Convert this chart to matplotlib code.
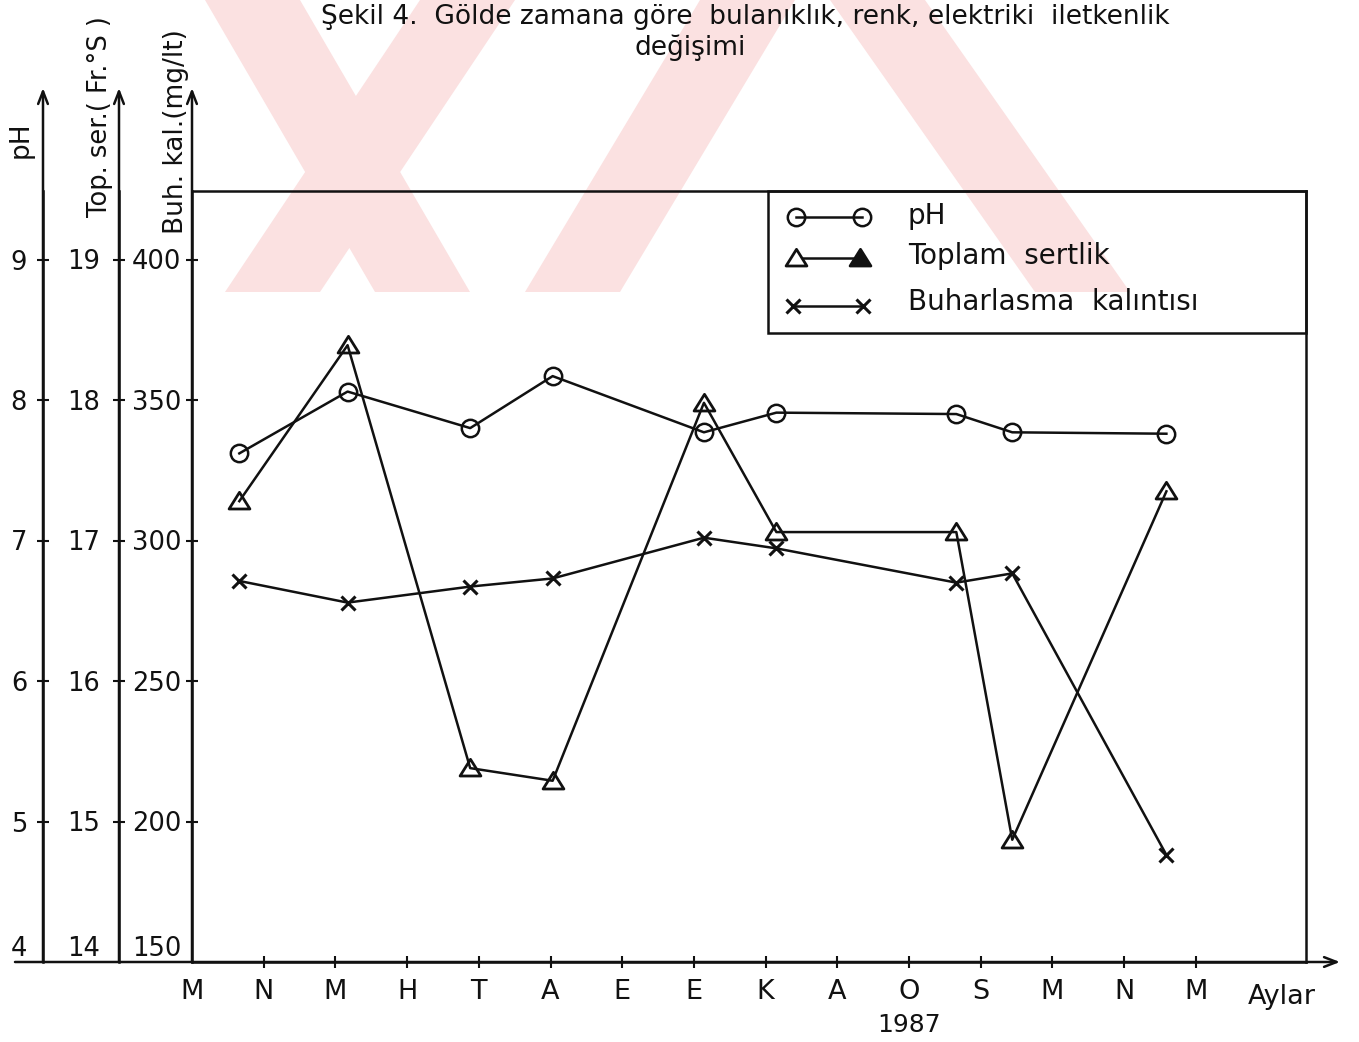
import matplotlib
matplotlib.use("Agg")
import matplotlib.pyplot as plt
from matplotlib.patches import Rectangle, Polygon
from matplotlib.path import Path

# ---------------- data ----------------
months = ["M", "N", "M", "H", "T", "A", "E", "E", "K", "A", "O", "S", "M", "N", "M"]
sample_pos = [0.66, 2.17, 3.88, 5.03, 7.14, 8.15, 10.66, 11.44, 13.59]   # position along month axis
ph = [7.62, 8.06, 7.80, 8.17, 7.77, 7.91, 7.90, 7.77, 7.76]
toplam_sertlik = [17.28, 18.39, 15.38, 15.29, 17.98, 17.06, 17.06, 14.87, 17.35]
buharlasma = [285.6, 277.9, 283.6, 286.5, 301.0, 297.2, 285.0, 288.3, 188.1]
ph_ticks = [4, 5, 6, 7, 8, 9]
ts_ticks = [14, 15, 16, 17, 18, 19]
buh_ticks = [150, 200, 250, 300, 350, 400]

plt.rcParams["font.family"] = ["DejaVu Sans"]

W, H = 1359, 1042
fig = plt.figure(figsize=(W / 100, H / 100), dpi=100)

# faint pink watermark of the scanned page (background decoration)
wm_bands = [
    [(205, 0), (300, 0), (470, 292), (375, 292)],
    [(420, 0), (515, 0), (320, 292), (225, 292)],
    [(700, 0), (795, 0), (620, 292), (525, 292)],
    [(830, 0), (925, 0), (1130, 292), (1035, 292)],
]
for band in wm_bands:
    fig.add_artist(Polygon([(x / W, 1 - y / H) for x, y in band], closed=True,
                           transform=fig.transFigure, fc="#fbe1e1", ec="none", zorder=-5))

L, R, T, B = 192, 1306, 191, 962
ax = fig.add_axes([L / W, 1 - B / H, (R - L) / W, (B - T) / H])
ax.set_xlim(0, (R - L) / 71.7)
ax.set_ylim(150, 150 + (B - T) / 2.81)

ax_ts = ax.twinx()
ax_ph = ax.twinx()
ax_ph.set_ylim(4, 4 + (B - T) / 140.5)
ax_ts.set_ylim(14, 14 + (B - T) / 140.5)

LW = 1.8
K = "#111111"

for a in (ax, ax_ts, ax_ph):
    for s in a.spines.values():
        s.set_linewidth(LW)
        s.set_color(K)
    a.patch.set_visible(False)

for a, pos in ((ax_ph, -(L - 43) / (R - L)), (ax_ts, -(L - 119) / (R - L))):
    for nm in ("top", "right", "bottom"):
        a.spines[nm].set_visible(False)
    a.spines["left"].set_visible(True)
    a.spines["left"].set_position(("axes", pos))
    a.yaxis.set_ticks_position("left")
    a.yaxis.set_label_position("left")

# ticks
ax.set_yticks(buh_ticks)
ax_ph.set_yticks(ph_ticks)
ax_ts.set_yticks(ts_ticks)
ax.tick_params(axis="y", direction="inout", length=9, width=1.5, labelsize=18.5, pad=3, colors=K)
ax_ts.tick_params(axis="y", direction="inout", length=9, width=1.5, labelsize=18.5, pad=9, colors=K)
ax_ph.tick_params(axis="y", direction="inout", length=9, width=1.5, labelsize=18.5, pad=7, colors=K)
for a in (ax, ax_ts, ax_ph):
    a.yaxis.get_major_ticks()[0].label1.set_va("bottom")
    a.yaxis.get_major_ticks()[0].tick1line.set_visible(False)

ax.set_xticks(range(len(months)))
ax.set_xticklabels(months)
ax.tick_params(axis="x", direction="inout", length=8, width=1.5, labelsize=19.5, pad=8, colors=K)
ax.xaxis.get_major_ticks()[0].tick1line.set_visible(False)

# axis arrows
top_frac = (B - 88) / (B - T)
arrow = dict(arrowstyle="->,head_length=0.9,head_width=0.35", lw=LW, color=K, shrinkA=0, shrinkB=0)
for xf in (-(L - 43) / (R - L), -(L - 119) / (R - L), 0.0):
    ax.annotate("", xy=(xf, top_frac), xytext=(xf, 0), xycoords="axes fraction",
                textcoords="axes fraction", arrowprops=arrow, annotation_clip=False)
ax.annotate("", xy=((1340 - L) / (R - L), 0), xytext=((15 - L) / (R - L), 0),
            xycoords="axes fraction", textcoords="axes fraction", arrowprops=arrow,
            annotation_clip=False)

# axis labels (rotated, above the axes)
fig.text(21 / W, 1 - 140 / H, "pH", rotation=90, ha="center", va="center", fontsize=19, color=K)
fig.text(100 / W, 1 - 117 / H, "Top. ser.( Fr.°S )", rotation=90, ha="center", va="center",
         fontsize=18.5, color=K)
fig.text(176 / W, 1 - 132 / H, "Buh. kal.(mg/lt)", rotation=90, ha="center", va="center",
         fontsize=19, color=K)

# series
tri = Path([(-1.0, -0.72), (1.0, -0.72), (0.0, 0.88), (-1.0, -0.72)],
           [Path.MOVETO, Path.LINETO, Path.LINETO, Path.CLOSEPOLY])
ax_ph.plot(sample_pos, ph, color=K, lw=LW, marker="o", ms=12.5, mfc="none", mec=K, mew=1.8,
           clip_on=False, zorder=3)
ax_ts.plot(sample_pos, toplam_sertlik, color=K, lw=LW, marker=tri, ms=15, mfc="none", mec=K,
           mew=2.0, clip_on=False, zorder=3)
ax.plot(sample_pos, buharlasma, color=K, lw=LW, marker="x", ms=10, mec=K, mew=2.2,
        clip_on=False, zorder=3)

# legend (drawn by hand as in original)
def fxa(px):
    return (px - L) / (R - L)

def fya(py):
    return (B - py) / (B - T)

tr = ax.transAxes
ax_ph.add_patch(Rectangle((fxa(767.5), fya(333)), 1 - fxa(767.5), 1 - fya(333),
                          transform=tr, fill=False, lw=LW, ec=K, clip_on=False))
ax_ph.plot([fxa(796), fxa(862)], [fya(217), fya(217)], color=K, lw=LW, marker="o", ms=12.5,
           mfc="none", mec=K, mew=1.8, transform=tr, clip_on=False)
ax_ph.plot([fxa(796), fxa(860)], [fya(258), fya(258)], color=K, lw=LW, transform=tr, clip_on=False)
ax_ph.plot([fxa(796)], [fya(258)], marker=tri, ms=15, mfc="white", mec=K, mew=2.0,
           transform=tr, clip_on=False)
ax_ph.plot([fxa(860)], [fya(258)], marker=tri, ms=15, mfc=K, mec=K, mew=2.0,
           transform=tr, clip_on=False)
ax_ph.plot([fxa(793), fxa(863)], [fya(306), fya(306)], color=K, lw=LW, marker="x", ms=10,
           mec=K, mew=2.2, transform=tr, clip_on=False)
for txt, py in (("pH", 216), ("Toplam  sertlik", 256), ("Buharlasma  kalıntısı", 302)):
    ax_ph.text(fxa(908), fya(py), txt, transform=tr, fontsize=20, ha="left", va="center", color=K)

# extra axis texts
ax.text(fxa(1282), fya(997), "Aylar", transform=tr, fontsize=19.5, ha="center", va="center",
        color=K, clip_on=False)
ax.text(10, fya(1025), "1987", transform=ax.get_xaxis_transform(), fontsize=18, ha="center",
        va="center", color=K, clip_on=False)

# title
fig.text(745 / W, 1 - 17 / H, "Şekil 4.  Gölde zamana göre  bulanıklık, renk, elektriki  iletkenlik",
         ha="center", va="center", fontsize=19, color=K)
fig.text(690 / W, 1 - 48 / H, "değişimi", ha="center", va="center", fontsize=19, color=K)

fig.savefig("out.png", dpi=100, facecolor="white")
